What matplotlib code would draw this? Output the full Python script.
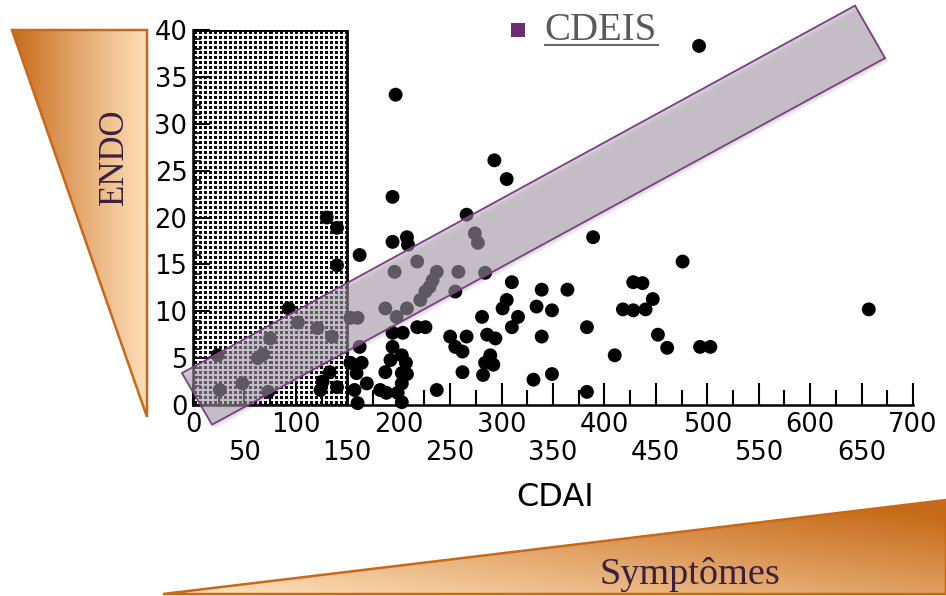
import numpy as np
import matplotlib
matplotlib.use("Agg")
import matplotlib.pyplot as plt
from matplotlib.patches import Polygon, Rectangle
from matplotlib.ticker import MultipleLocator, FixedLocator
from matplotlib.transforms import ScaledTranslation

# ---------------- data ----------------
cdai = [24, 26, 48, 63, 68, 75, 73, 93, 102, 121, 135, 130, 140, 140, 126, 140, 124, 133,
        153, 160, 162, 162, 153, 164, 159, 169, 157, 160, 182, 188,
        197, 194, 194, 208, 209, 218, 196, 187, 208, 198, 218, 226, 194, 204, 194, 203,
        192, 207, 187, 203, 208, 203, 199, 203,
        237, 258, 233, 230, 226, 221, 255, 266, 274, 277, 284, 293, 305, 237,
        250, 266, 255, 262, 262, 281, 286, 294, 289, 284, 292, 282,
        310, 339, 364, 305, 301, 334, 349, 316, 310, 339, 331, 349, 383, 383, 389,
        410, 428, 437, 418, 428, 440, 447, 452, 461, 476, 493, 503, 492, 657]
endo = [5.3, 1.6, 2.3, 5.0, 5.4, 7.1, 1.4, 10.3, 8.8, 8.2, 7.3, 20.0, 18.9, 14.9, 2.5, 1.9, 1.6, 3.5,
        9.3, 9.3, 16.0, 6.2, 4.5, 4.5, 3.4, 2.3, 1.6, 0.2, 1.6, 1.3,
        33.1, 22.2, 17.4, 17.9, 17.1, 15.3, 14.2, 10.3, 10.3, 9.4, 8.3, 8.3, 7.7, 7.7, 6.2, 5.3,
        4.8, 4.5, 3.5, 3.4, 3.3, 2.3, 1.3, 0.3,
        14.2, 14.2, 13.3, 12.6, 12.1, 11.2, 12.1, 20.3, 18.3, 17.3, 14.1, 26.1, 24.1, 1.6,
        7.3, 7.3, 6.2, 5.7, 3.5, 9.4, 7.5, 7.1, 5.3, 4.5, 4.3, 3.2,
        13.1, 12.3, 12.3, 11.2, 10.3, 10.5, 10.1, 9.4, 8.3, 7.3, 2.7, 3.3, 8.3, 1.4, 17.9,
        5.3, 13.1, 13.0, 10.2, 10.1, 10.2, 11.3, 7.5, 6.1, 15.3, 6.2, 6.2, 38.3, 10.2]

x_major = list(range(0, 701, 50))
x_labels = [str(v) if v % 100 == 0 else "\n" + str(v) for v in x_major]
y_major = list(range(0, 41, 5))
y_labels = [str(v) for v in y_major]

zone_x = [0, 150]   # CDAI < 150 zone (dotted)
zone_y = [0, 40]

band_x = [-10.7, 18.5, 672.8, 643.6]
band_y = [3.4, -2.1, 37.0, 42.6]

# ---------------- figure ----------------
W, H = 946, 596
fig = plt.figure(figsize=(W / 100, H / 100), dpi=100)
fig.patch.set_facecolor("white")

bg = fig.add_axes([0, 0, 1, 1], zorder=0)
bg.set_xlim(0, W)
bg.set_ylim(H, 0)
bg.axis("off")

dark = np.array([0.78, 0.42, 0.10])
light = np.array([0.99, 0.87, 0.72])

# left triangle (ENDO)
lx0, lx1, ly0, ly1 = 12, 147, 30, 417
gx = np.linspace(0, 1, 200)
t = (1 - gx)[None, :] ** 1.1 * np.ones((10, 1))
img = dark[None, None, :] * t[..., None] + light[None, None, :] * (1 - t[..., None])
im = bg.imshow(img, extent=(lx0, lx1, ly1, ly0), aspect="auto", zorder=2, interpolation="bilinear")
im.set_clip_path(Polygon([(lx0, ly0), (lx1, ly0), (lx1, ly1)], closed=True, transform=bg.transData))
bg.add_patch(Polygon([(lx0, ly0), (lx1, ly0), (lx1, ly1)], closed=True,
                     facecolor="none", edgecolor="#C8691A", lw=1.8, zorder=3))

# bottom triangle (Symptomes)
bx0, bx1, by0, by1 = 163, 946, 500, 594
XX, YY = np.meshgrid(np.linspace(0, 1, 300), np.linspace(0, 1, 60))
tb = np.clip(0.6 * XX + 0.55 * (1 - YY) - 0.05, 0, 1)
img2 = dark[None, None, :] * tb[..., None] + light[None, None, :] * (1 - tb[..., None])
im2 = bg.imshow(img2, extent=(bx0, bx1, by1, by0), aspect="auto", zorder=2, interpolation="bilinear")
im2.set_clip_path(Polygon([(bx0, by1), (bx1, by0), (bx1, by1)], closed=True, transform=bg.transData))
bg.add_patch(Polygon([(bx0, by1), (bx1, by0), (bx1, by1)], closed=True,
                     facecolor="none", edgecolor="#C8691A", lw=1.8, zorder=3))

bg.text(114, 157, "ENDO", rotation=90, ha="center", va="center", fontsize=25,
        family="Liberation Serif", color="#3B2140", zorder=4)
bg.text(690, 574, "Symptômes", ha="center", va="center", fontsize=27.5,
        family="Liberation Serif", color="#3B2140", zorder=4)
bg.text(555, 497, "CDAI", ha="center", va="center", fontsize=23,
        family="DejaVu Sans", color="black", zorder=4)

# legend-like label
bg.add_patch(Rectangle((511, 23), 14, 14, facecolor="#6B2D70", edgecolor="none", zorder=4))
bg.text(544, 31, "CDEIS", ha="left", va="center", fontsize=28,
        family="Liberation Serif", color="#5A5A5A", zorder=4)
bg.plot([545, 658], [45, 45], color="#6A6A6A", lw=1.5, zorder=4)

# ---------------- main axes ----------------
ax = fig.add_axes([193 / W, (H - 405) / H, 720 / W, 375 / H], zorder=1)
ax.set_facecolor("none")

# dotted zone texture
pw, ph = 154, 375
ii, jj = np.mgrid[0:ph, 0:pw]
a, b = ii % 5, jj % 5
dots = (a >= 1) & (a <= 3) & (b >= 1) & (b <= 3)
pat = np.where(dots, 0.0, 1.0)
ax.imshow(pat, extent=(zone_x[0], zone_x[1], zone_y[0], zone_y[1]), cmap="gray",
          vmin=0, vmax=1, aspect="auto", interpolation="nearest", zorder=1)
ax.add_patch(Rectangle((zone_x[0], zone_y[0]), zone_x[1] - zone_x[0], zone_y[1] - zone_y[0],
                       facecolor="none", edgecolor="black", lw=2, zorder=3))

ax.scatter(cdai, endo, s=100, color="black", edgecolors="none", zorder=4, clip_on=False)

band_pts = list(zip(band_x, band_y))
for k, al in [(4, 0.05), (3, 0.06), (2, 0.07)]:
    sh = ax.transData + ScaledTranslation(k / 100, -k / 100, fig.dpi_scale_trans)
    ax.add_patch(Polygon(band_pts, closed=True, facecolor=(0.3, 0.3, 0.3, al),
                         edgecolor="none", zorder=5, clip_on=False, transform=sh))
band_fc = (172 / 255, 159 / 255, 176 / 255, 0.52)
ax.add_patch(Polygon(band_pts, closed=True, facecolor=band_fc,
                     edgecolor="#7A3E82", lw=1.3, zorder=6, clip_on=False))

ax.set_xlim(0, 700)
ax.set_ylim(0, 40)
for s in ["top", "right"]:
    ax.spines[s].set_visible(False)
for s in ["left", "bottom"]:
    ax.spines[s].set_linewidth(1.8)
    ax.spines[s].set_zorder(3)

ax.xaxis.set_major_locator(FixedLocator(x_major))
ax.set_xticklabels(x_labels)
ax.xaxis.set_minor_locator(FixedLocator([v + 25 for v in x_major[:-1]]))
ax.yaxis.set_major_locator(FixedLocator(y_major))
ax.set_yticklabels(y_labels)
ax.yaxis.set_minor_locator(MultipleLocator(1))

ax.tick_params(axis="x", which="major", direction="in", length=16, width=1.5, pad=5,
               labelsize=18.5)
ax.tick_params(axis="x", which="minor", direction="in", length=11, width=1.5)
ax.tick_params(axis="y", which="major", direction="in", length=12, width=1.5, pad=4,
               labelsize=18.5)
ax.tick_params(axis="y", which="minor", direction="in", length=6, width=1.2)
for lab in ax.get_xticklabels() + ax.get_yticklabels():
    lab.set_family("DejaVu Sans")
    lab.set_linespacing(1.08)

fig.savefig("out.png", dpi=100, facecolor="white")
